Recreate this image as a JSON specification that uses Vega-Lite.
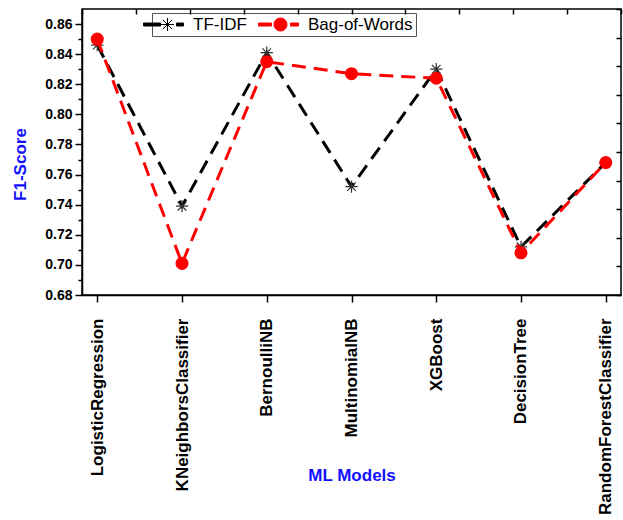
{
  "$schema": "https://vega.github.io/schema/vega-lite/v6.json",
  "width": 539,
  "height": 286,
  "autosize": {"type": "none"},
  "padding": {"left": 82, "top": 9, "right": 2, "bottom": 225},
  "background": "white",
  "config": {
    "font": "Liberation Sans",
    "view": {"stroke": "black", "strokeWidth": 1.5},
    "axis": {"grid": false, "tickColor": "black", "domainColor": "black", "tickWidth": 1.5, "domainWidth": 1.5, "labelColor": "black"}
  },
  "data": {
    "values": [
      {"model": "LogisticRegression", "method": "TF-IDF", "score": 0.846},
      {"model": "KNeighborsClassifier", "method": "TF-IDF", "score": 0.739},
      {"model": "BernoulliNB", "method": "TF-IDF", "score": 0.841},
      {"model": "MultinomialNB", "method": "TF-IDF", "score": 0.752},
      {"model": "XGBoost", "method": "TF-IDF", "score": 0.830},
      {"model": "DecisionTree", "method": "TF-IDF", "score": 0.712},
      {"model": "RandomForestClassifier", "method": "TF-IDF", "score": 0.768},
      {"model": "LogisticRegression", "method": "Bag-of-Words", "score": 0.850},
      {"model": "KNeighborsClassifier", "method": "Bag-of-Words", "score": 0.701},
      {"model": "BernoulliNB", "method": "Bag-of-Words", "score": 0.835},
      {"model": "MultinomialNB", "method": "Bag-of-Words", "score": 0.827},
      {"model": "XGBoost", "method": "Bag-of-Words", "score": 0.824},
      {"model": "DecisionTree", "method": "Bag-of-Words", "score": 0.708},
      {"model": "RandomForestClassifier", "method": "Bag-of-Words", "score": 0.768}
    ]
  },
  "resolve": {
    "scale": {"x": "independent", "y": "independent"},
    "axis": {"x": "independent", "y": "independent"}
  },
  "layer": [
    {
      "encoding": {
        "x": {"field": "model", "type": "nominal", "sort": null,
          "scale": {"type": "point", "padding": 0.18},
          "axis": {"orient": "bottom", "labelAngle": -90, "labelAlign": "right", "labelBaseline": "middle", "labelFontSize": 17, "labelFontWeight": "bold", "labelLimit": 0, "tickSize": 7, "labelPadding": 16,
            "title": "ML Models", "titleColor": "#1010ff", "titleFontSize": 17, "titleFontWeight": "bold", "titleY": 180, "titleBaseline": "middle"}},
        "y": {"field": "score", "type": "quantitative",
          "scale": {"domain": [0.68, 0.87], "nice": false, "zero": false},
          "axis": {"orient": "left", "values": [0.68,0.70,0.72,0.74,0.76,0.78,0.80,0.82,0.84,0.86], "format": ".2f", "labelFontSize": 14, "labelFontWeight": "bold", "tickSize": 7, "labelPadding": 3,
            "title": "F1-Score", "titleColor": "#1010ff", "titleFontSize": 17, "titleFontWeight": "bold", "titleX": -62, "titleY": 155, "titleAngle": -90, "titleBaseline": "middle", "titleAlign": "center"}}
      },
      "layer": [
        {
          "transform": [{"filter": "datum.method === 'TF-IDF'"}],
          "mark": {"type": "line", "strokeWidth": 3, "strokeDash": [14, 8]},
          "encoding": {
            "color": {"field": "method", "type": "nominal",
              "scale": {"domain": ["TF-IDF", "Bag-of-Words"], "range": ["black", "red"]},
              "legend": {"orient": "none", "legendX": 70, "legendY": 4, "direction": "horizontal", "title": null,
                "strokeColor": "#555", "fillColor": "white", "padding": 3,
                "labelFontSize": 17, "labelFont": "Liberation Sans", "labelColor": "black", "symbolSize": 100, "labelOffset": 21, "columnPadding": 9,
                "encode": {"symbols": {"update": {
                  "shape": {"signal": "datum.value === 'TF-IDF' ? 'M-4,-0.3H-0.6V0.3H-4ZM2.6,-0.3H4V0.3H2.6ZM-0.5,0H2.1M0.8,-1.3V1.3M-0.12,-0.92L1.72,0.92M-0.12,0.92L1.72,-0.92' : 'M-4,-0.3H-1.4V0.3H-4ZM2.4,-0.3H4V0.3H2.4ZM-0.9,0A1.3,1.3 0 1,1 1.7,0A1.3,1.3 0 1,1 -0.9,0Z'"},
                  "fill": {"signal": "datum.value === 'TF-IDF' ? 'black' : 'red'"},
                  "stroke": {"signal": "datum.value === 'TF-IDF' ? 'black' : 'red'"},
                  "strokeWidth": {"value": 1},
                  "strokeDash": {"value": []},
                  "opacity": {"value": 1},
                  "fillOpacity": {"value": 1}
                }}}}
            }
          }
        },
        {
          "transform": [{"filter": "datum.method === 'TF-IDF'"}],
          "mark": {"type": "point", "shape": "M-1,0H1M0,-1V1M-0.7,-0.7L0.7,0.7M-0.7,0.7L0.7,-0.7", "size": 150, "filled": false, "color": "#333", "strokeWidth": 1.2, "opacity": 1}
        },
        {
          "transform": [{"filter": "datum.method === 'Bag-of-Words'"}],
          "mark": {"type": "line", "strokeWidth": 3, "strokeDash": [14, 8]},
          "encoding": {"color": {"field": "method", "type": "nominal"}}
        },
        {
          "transform": [{"filter": "datum.method === 'Bag-of-Words'"}],
          "mark": {"type": "circle", "size": 170, "color": "red", "opacity": 1}
        }
      ]
    },
    {
      "mark": {"type": "point", "opacity": 0},
      "encoding": {
        "x": {"field": "score", "type": "quantitative", "scale": {"domain": [0, 10], "nice": false, "zero": false},
          "axis": {"orient": "top", "values": [0,1,2,3,4,5,6,7,8,9,10], "labels": false, "domain": false, "ticks": true, "tickSize": 5, "tickColor": "black", "tickWidth": 1.5, "offset": -5, "title": null, "zindex": 1}},
        "y": {"field": "score", "type": "quantitative", "scale": {"domain": [0, 10], "nice": false, "zero": false},
          "axis": {"orient": "right", "values": [0,1,2,3,4,5,6,7,8,9,10], "labels": false, "domain": false, "ticks": true, "tickSize": 5, "tickColor": "black", "tickWidth": 1.5, "offset": -5, "title": null, "zindex": 1}}
      }
    },
    {
      "mark": {"type": "point", "opacity": 0},
      "encoding": {
        "x": {"field": "score", "type": "quantitative", "scale": {"domain": [0, 10], "nice": false, "zero": false}, "axis": null},
        "y": {"field": "score", "type": "quantitative", "scale": {"domain": [0.68, 0.87], "nice": false, "zero": false},
          "axis": {"orient": "left", "values": [0.69,0.71,0.73,0.75,0.77,0.79,0.81,0.83,0.85], "labels": false, "domain": false, "ticks": true, "tickSize": 4, "tickColor": "black", "tickWidth": 1.5, "title": null}}
      }
    }
  ]
}
